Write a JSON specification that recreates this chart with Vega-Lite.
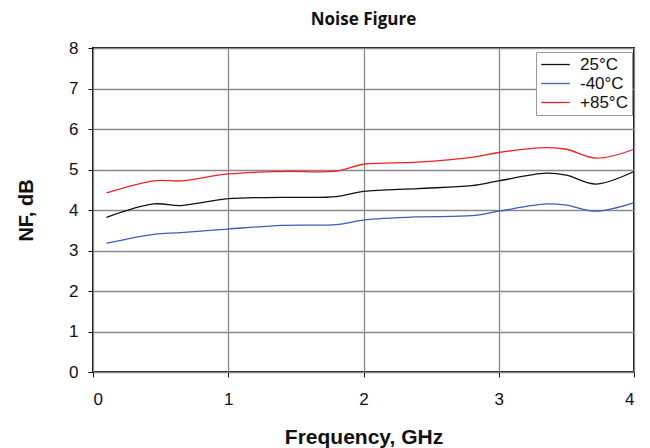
{
  "$schema": "https://vega.github.io/schema/vega-lite/v6.json",
  "autosize": "none",
  "width": 541,
  "height": 324,
  "padding": {"left": 93, "top": 48, "right": 16, "bottom": 76},
  "background": "white",
  "title": {"text": "Noise Figure", "font": "Open Sans", "fontSize": 17, "fontWeight": "bold", "color": "#111", "anchor": "middle", "offset": 10},
  "config": {
    "view": {"stroke": "#111", "strokeWidth": 2},
    "axis": {"labelFont": "Liberation Sans", "titleFont": "Liberation Sans", "labelFontSize": 17, "titleFontSize": 20, "titleFontWeight": "bold", "labelColor": "#111", "titleColor": "#111", "gridColor": "#8a8a8a", "gridWidth": 1.3, "tickColor": "#111", "domain": false, "tickSize": 5}
  },
  "data": {"values": [
    {"f": 0.1, "nf": 3.82, "t": "25°C"}, {"f": 0.45, "nf": 4.15, "t": "25°C"}, {"f": 0.65, "nf": 4.11, "t": "25°C"}, {"f": 1.0, "nf": 4.28, "t": "25°C"}, {"f": 1.4, "nf": 4.31, "t": "25°C"}, {"f": 1.8, "nf": 4.33, "t": "25°C"}, {"f": 2.0, "nf": 4.46, "t": "25°C"}, {"f": 2.4, "nf": 4.53, "t": "25°C"}, {"f": 2.8, "nf": 4.6, "t": "25°C"}, {"f": 3.0, "nf": 4.72, "t": "25°C"}, {"f": 3.35, "nf": 4.91, "t": "25°C"}, {"f": 3.5, "nf": 4.86, "t": "25°C"}, {"f": 3.72, "nf": 4.64, "t": "25°C"}, {"f": 4.0, "nf": 4.95, "t": "25°C"},
    {"f": 0.1, "nf": 3.18, "t": "-40°C"}, {"f": 0.45, "nf": 3.4, "t": "-40°C"}, {"f": 0.65, "nf": 3.44, "t": "-40°C"}, {"f": 1.0, "nf": 3.53, "t": "-40°C"}, {"f": 1.4, "nf": 3.62, "t": "-40°C"}, {"f": 1.8, "nf": 3.64, "t": "-40°C"}, {"f": 2.0, "nf": 3.75, "t": "-40°C"}, {"f": 2.4, "nf": 3.83, "t": "-40°C"}, {"f": 2.8, "nf": 3.86, "t": "-40°C"}, {"f": 3.0, "nf": 3.97, "t": "-40°C"}, {"f": 3.35, "nf": 4.15, "t": "-40°C"}, {"f": 3.5, "nf": 4.12, "t": "-40°C"}, {"f": 3.72, "nf": 3.97, "t": "-40°C"}, {"f": 4.0, "nf": 4.18, "t": "-40°C"},
    {"f": 0.1, "nf": 4.42, "t": "+85°C"}, {"f": 0.45, "nf": 4.72, "t": "+85°C"}, {"f": 0.65, "nf": 4.72, "t": "+85°C"}, {"f": 1.0, "nf": 4.89, "t": "+85°C"}, {"f": 1.4, "nf": 4.95, "t": "+85°C"}, {"f": 1.8, "nf": 4.96, "t": "+85°C"}, {"f": 2.0, "nf": 5.13, "t": "+85°C"}, {"f": 2.4, "nf": 5.18, "t": "+85°C"}, {"f": 2.8, "nf": 5.3, "t": "+85°C"}, {"f": 3.0, "nf": 5.42, "t": "+85°C"}, {"f": 3.35, "nf": 5.54, "t": "+85°C"}, {"f": 3.5, "nf": 5.5, "t": "+85°C"}, {"f": 3.72, "nf": 5.28, "t": "+85°C"}, {"f": 4.0, "nf": 5.5, "t": "+85°C"}
  ]},
  "mark": {"type": "line", "interpolate": "catmull-rom", "strokeWidth": 1.3},
  "encoding": {
    "x": {"field": "f", "type": "quantitative", "scale": {"domain": [0, 4], "nice": false}, "axis": {"values": [0, 1, 2, 3, 4], "title": "Frequency, GHz", "labelPadding": 14, "titleFontSize": 21, "titlePadding": 19, "grid": true}},
    "y": {"field": "nf", "type": "quantitative", "scale": {"domain": [0, 8], "nice": false}, "axis": {"values": [0, 1, 2, 3, 4, 5, 6, 7, 8], "title": "NF, dB", "labelPadding": 10, "titlePadding": 32, "grid": true}},
    "color": {"field": "t", "type": "nominal", "scale": {"domain": ["25°C", "-40°C", "+85°C"], "range": ["#111111", "#3a5fb5", "#ee2222"]},
      "legend": {"title": null, "orient": "none", "legendX": 443, "legendY": 4, "symbolType": "M-1.9,0L1.9,0", "symbolSize": 225, "symbolOffset": 7, "symbolStrokeWidth": 1.3, "labelFont": "Liberation Sans", "labelFontSize": 17, "labelColor": "#111", "fillColor": "white", "strokeColor": "#999", "padding": 4, "rowPadding": 1, "labelOffset": 16}}
  }
}
